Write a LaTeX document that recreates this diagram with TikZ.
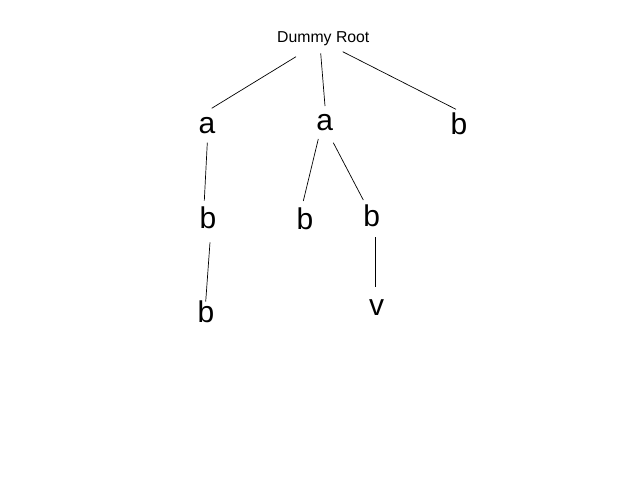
\documentclass[tikz,border=0pt]{standalone}
\usepackage{fontspec}
\setmainfont{Liberation Sans}
\usetikzlibrary{calc}
\tikzset{
  lbl/.style={anchor=base, inner sep=0pt, font=\fontsize{30}{36}\selectfont},
  rootlbl/.style={anchor=base, inner sep=0pt, font=\fontsize{15.8}{19}\selectfont},
  edge/.style={draw=black, line width=0.7pt}
}
\begin{document}
\begin{tikzpicture}[x=1pt,y=-1pt]
\useasboundingbox[fill=white] (0,0) rectangle (640,480);
\node[rootlbl] (root) at (323.3,42.3) {Dummy Root};
\node[lbl] (a1) at (207,133) {a};
\node[lbl] (a2) at (324.8,130) {a};
\node[lbl] (b3) at (459,134) {b};
\node[lbl] (b1) at (208,228) {b};
\node[lbl] (b11) at (206,322.5) {b};
\node[lbl] (b21) at (305,229) {b};
\node[lbl] (b22) at (371.7,226.7) {b};
\node[lbl] (v) at (376.7,315) {v};
\draw[edge] ($(root.base)+(-27.3,14.4)$) -- ($(a1.base)+(4.7,-24.7)$);
\draw[edge] ($(root.base)+(-2.6,11)$) -- ($(a2.base)+(0.2,-24)$);
\draw[edge] ($(root.base)+(19.4,9.4)$) -- ($(b3.base)+(-3,-24.7)$);
\draw[edge] ($(a1.base)+(0.3,9.7)$) -- ($(b1.base)+(-3.7,-27.3)$);
\draw[edge] ($(b1.base)+(2,14.3)$) -- ($(b11.base)+(-0.3,-20.8)$);
\draw[edge] ($(a2.base)+(-6.5,9)$) -- ($(b21.base)+(-1.7,-28)$);
\draw[edge] ($(a2.base)+(8.5,12.7)$) -- ($(b22.base)+(-8.4,-26.7)$);
\draw[edge] ($(b22.base)+(3.3,10.6)$) -- ($(v.base)+(-1.7,-27.7)$);
\end{tikzpicture}
\end{document}
